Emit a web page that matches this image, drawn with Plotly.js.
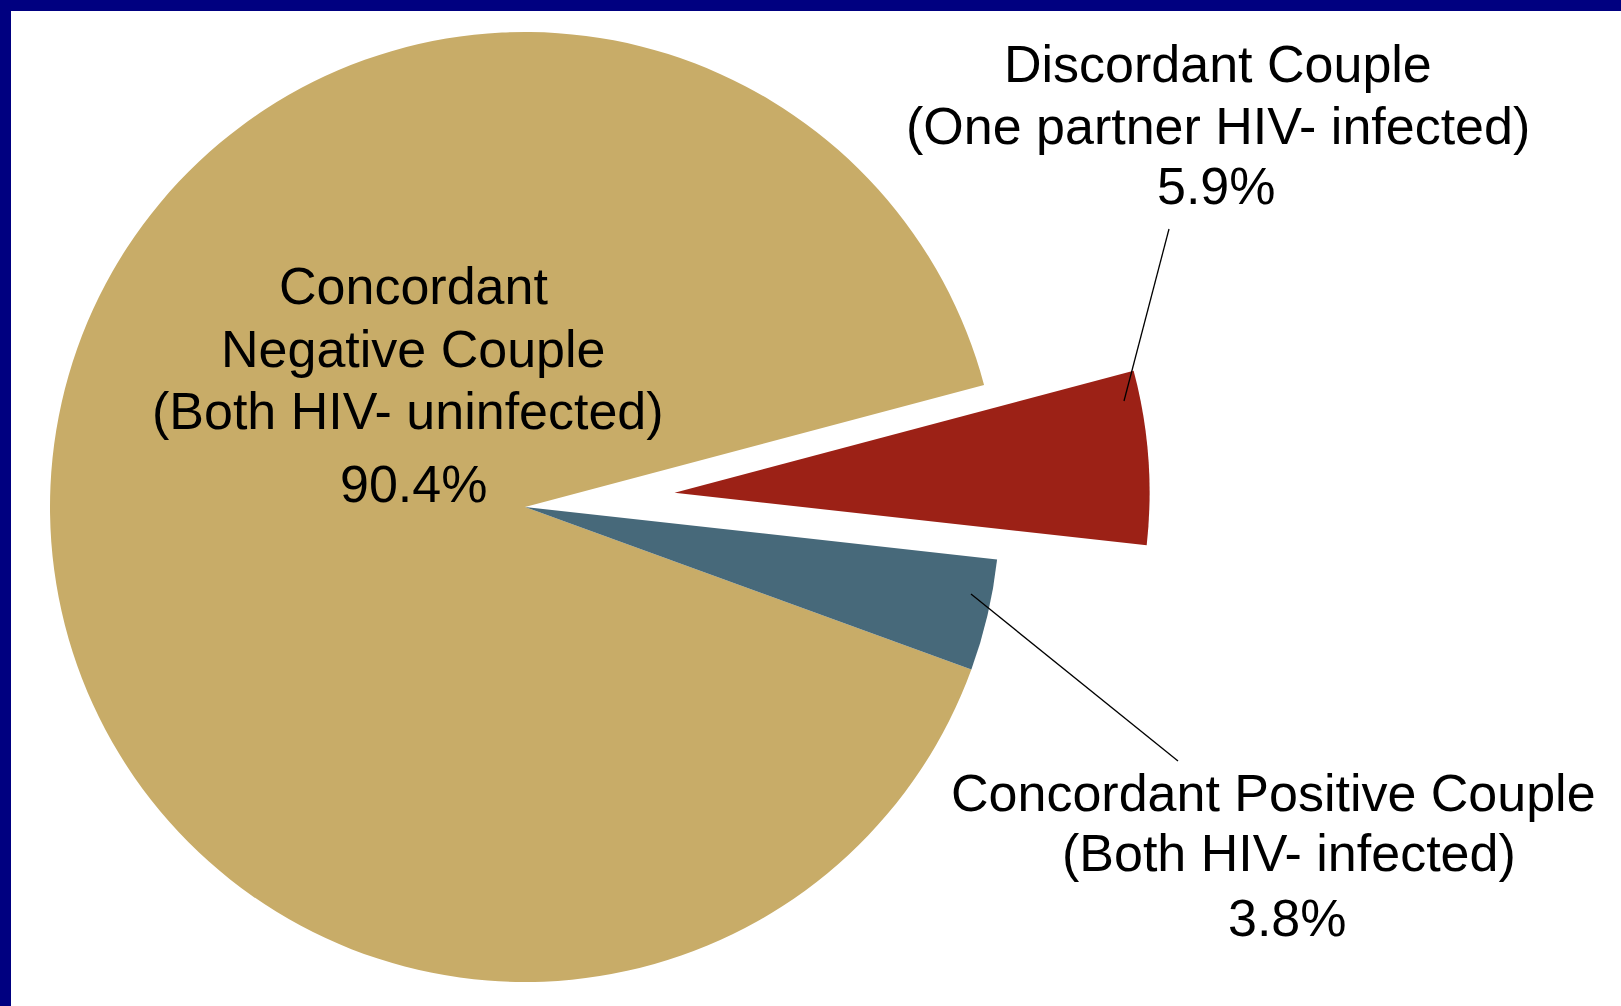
<!DOCTYPE html>
<html>
<head>
<meta charset="utf-8">
<script src="https://cdn.plot.ly/plotly-3.0.1.min.js"></script>
<style>
  html, body { margin: 0; padding: 0; background: #ffffff; overflow: hidden; }
  #chart { width: 1621px; height: 1006px; }
</style>
</head>
<body>
<div id="chart"></div>
<script>
// ---- data ----
var categories = [
  "Concordant Negative Couple (Both HIV- uninfected)",
  "Discordant Couple (One partner HIV- infected)",
  "Concordant Positive Couple (Both HIV- infected)"
];
var labelLines = [
  ["Concordant", "Negative Couple", "(Both HIV- uninfected)"],
  ["Discordant Couple", "(One partner HIV- infected)"],
  ["Concordant Positive Couple", "(Both HIV- infected)"]
];
var percentValues = [90.4, 5.9, 3.8];
var sliceColors = ["#C8AC68", "#9C2116", "#47697A"];
var explodedSlice = 1;

// ---- geometry (pixels) ----
var W = 1621, H = 1006;
var cx = 525, cy = 507, R = 475;
var pullPx = 150;
var startAngle = 110; // degrees clockwise from 12 o'clock

function pxDomain(x, y) {
  return {
    x: [(x - R) / W, (x + R) / W],
    y: [(H - (y + R)) / H, (H - (y - R)) / H]
  };
}

// bisector of the exploded slice
var total = percentValues.reduce(function (a, b) { return a + b; }, 0);
var before = 0;
for (var i = 0; i < explodedSlice; i++) before += percentValues[i];
var midDeg = startAngle + (before + percentValues[explodedSlice] / 2) / total * 360;
var midRad = midDeg * Math.PI / 180;
var ex = cx + pullPx * Math.sin(midRad);
var ey = cy - pullPx * Math.cos(midRad) - 3;

var baseColors = sliceColors.map(function (c, i) { return i === explodedSlice ? "rgba(0,0,0,0)" : c; });
var explodedColors = sliceColors.map(function (c, i) { return i === explodedSlice ? c : "rgba(0,0,0,0)"; });

var common = {
  type: "pie",
  labels: categories,
  values: percentValues,
  sort: false,
  direction: "clockwise",
  rotation: startAngle,
  textinfo: "none",
  hoverinfo: "none",
  showlegend: false
};

var trace1 = Object.assign({}, common, {
  marker: { colors: baseColors, line: { width: 0 } },
  domain: pxDomain(cx, cy)
});
var trace2 = Object.assign({}, common, {
  marker: { colors: explodedColors, line: { width: 0 } },
  domain: pxDomain(ex, ey)
});

// ---- labels ----
var FONT = { family: "Liberation Sans, Arial, sans-serif", size: 52, color: "#000000" };
var labelLayout = [
  { x: [413, 413, 408], y: [286, 349, 411], px: 413, py: 484 },
  { x: [1218, 1218], y: [64, 126], px: 1216, py: 186 },
  { x: [1273, 1289], y: [793, 853], px: 1287, py: 918 }
];

var annotations = [];
labelLines.forEach(function (lines, k) {
  var L = labelLayout[k];
  lines.forEach(function (t, j) {
    annotations.push({
      xref: "paper", yref: "paper",
      x: L.x[j] / W, y: 1 - L.y[j] / H,
      xanchor: "center", yanchor: "middle",
      text: t, showarrow: false, font: FONT
    });
  });
  annotations.push({
    xref: "paper", yref: "paper",
    x: L.px / W, y: 1 - L.py / H,
    xanchor: "center", yanchor: "middle",
    text: percentValues[k].toFixed(1) + "%", showarrow: false, font: FONT
  });
});

function pline(x0, y0, x1, y1) {
  return {
    type: "line", xref: "paper", yref: "paper",
    x0: x0 / W, y0: 1 - y0 / H, x1: x1 / W, y1: 1 - y1 / H,
    line: { color: "#000000", width: 1.3 }
  };
}

var shapes = [
  pline(1169, 229, 1124, 401),
  pline(971, 594, 1178, 761),
  { type: "rect", xref: "paper", yref: "paper", x0: 0, x1: 1, y0: 1 - 11 / H, y1: 1,
    fillcolor: "#000080", line: { width: 0 }, layer: "above" },
  { type: "rect", xref: "paper", yref: "paper", x0: 0, x1: 11 / W, y0: 0, y1: 1,
    fillcolor: "#000080", line: { width: 0 }, layer: "above" }
];

var layout = {
  width: W, height: H,
  margin: { l: 0, r: 0, t: 0, b: 0, pad: 0 },
  paper_bgcolor: "#ffffff",
  plot_bgcolor: "#ffffff",
  showlegend: false,
  annotations: annotations,
  shapes: shapes
};

Plotly.newPlot("chart", [trace1, trace2], layout, { displayModeBar: false, staticPlot: true });
</script>
</body>
</html>
